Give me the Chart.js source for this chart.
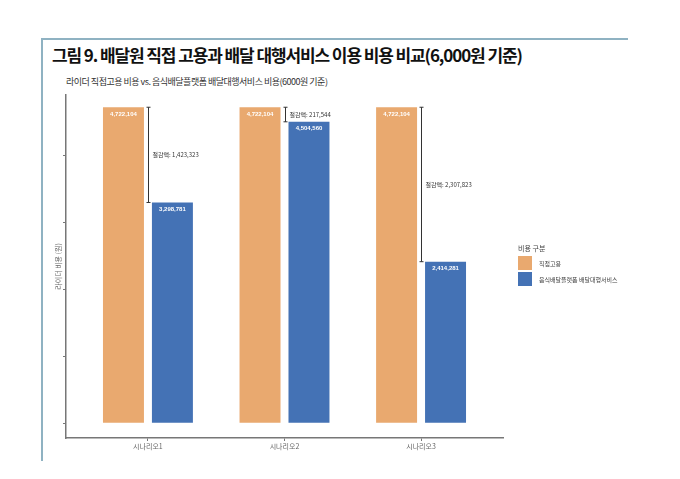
<!DOCTYPE html>
<html>
<head>
<meta charset="utf-8">
<script src="https://cdn.jsdelivr.net/npm/chart.js@4.4.1/dist/chart.umd.min.js"></script>
<style>
  html, body { margin: 0; padding: 0; background: #fff; }
  #page { position: relative; width: 680px; height: 479px; overflow: hidden; font-family: "Noto Sans CJK KR", "Noto Sans", sans-serif; }
  #frame-top { position: absolute; left: 42px; top: 38px; width: 586px; height: 2px; background: #8fb2c2; }
  #frame-left { position: absolute; left: 41px; top: 38px; width: 2px; height: 423px; background: #8fb2c2; }
  #title { position: absolute; left: 52px; top: 42px; font-size: 17px; font-weight: bold; color: #111; white-space: nowrap; letter-spacing: -1.1px; }
  #subtitle { position: absolute; left: 66px; top: 75px; font-size: 9px; color: #333; white-space: nowrap; letter-spacing: -0.5px; }
  #chart-wrap { position: absolute; left: 0; top: 0; width: 680px; height: 479px; }
  #legend { position: absolute; left: 518px; top: 243px; font-size: 6px; color: #444; }
  #legend .ltitle { font-size: 7px; margin-bottom: 3px; }
  #legend .item { display: flex; align-items: center; height: 14px; margin-bottom: 2px; }
  #legend .sw { width: 14px; height: 14px; margin-right: 7px; }
</style>
</head>
<body>
<div id="page">
  <div id="frame-top"></div>
  <div id="frame-left"></div>
  <div id="title">그림 9. 배달원 직접 고용과 배달 대행서비스 이용 비용 비교(6,000원 기준)</div>
  <div id="subtitle">라이더 직접고용 비용 vs. 음식배달플랫폼 배달대행서비스 비용(6000원 기준)</div>
  <div id="chart-wrap"><canvas id="chart" width="680" height="479"></canvas></div>
  <div id="legend"></div>
</div>
<script>
// chart data
const scenarios = ['시나리오1', '시나리오2', '시나리오3'];
const directCost = [4722104, 4722104, 4722104];
const platformCost = [3298781, 4504560, 2414281];
const seriesNames = ['직접고용', '음식배달플랫폼 배달대행서비스'];
const yTicks = [0, 1000000, 2000000, 3000000, 4000000];

const ORANGE = '#e9a96f';
const BLUE = '#4472b5';

const fmt = v => v.toLocaleString('en-US');

// bar values inside the bar tops + savings brackets
const labelPlugin = {
  id: 'labels',
  afterDatasetsDraw(chart) {
    const ctx = chart.ctx;
    ctx.save();
    ctx.textAlign = 'center';
    ctx.textBaseline = 'middle';
    ctx.font = 'bold 6px "Liberation Sans", Arial, sans-serif';
    ctx.fillStyle = '#ffffff';
    chart.data.datasets.forEach((ds, di) => {
      chart.getDatasetMeta(di).data.forEach((bar, i) => {
        ctx.fillText(fmt(ds.data[i].y), bar.x, bar.y + 7);
      });
    });

    // savings brackets
    const xs = chart.scales.x, ys = chart.scales.y;
    scenarios.forEach((s, i) => {
      const x = Math.round(xs.getPixelForValue(i)) + 0.5;
      const y1 = ys.getPixelForValue(directCost[i]);
      const y2 = ys.getPixelForValue(platformCost[i]);
      ctx.strokeStyle = '#333';
      ctx.lineWidth = 1;
      ctx.beginPath();
      ctx.moveTo(x, y1); ctx.lineTo(x, y2);
      ctx.moveTo(x - 2, y1); ctx.lineTo(x + 2, y1);
      ctx.moveTo(x - 2, y2); ctx.lineTo(x + 2, y2);
      ctx.stroke();
      ctx.fillStyle = '#333';
      ctx.textAlign = 'left';
      ctx.font = '6px "Noto Sans CJK KR", sans-serif';
      ctx.fillText('절감액: ' + fmt(directCost[i] - platformCost[i]), x + 4, (y1 + y2) / 2);
    });
    ctx.restore();
  }
};

const chart = new Chart(document.getElementById('chart'), {
  type: 'bar',
  data: {
    datasets: [
      {
        label: seriesNames[0],
        data: directCost.map((v, i) => ({ x: i, y: v })),
        backgroundColor: ORANGE
      },
      {
        label: seriesNames[1],
        data: platformCost.map((v, i) => ({ x: i, y: v })),
        backgroundColor: BLUE
      }
    ]
  },
  options: {
    responsive: false,
    animation: false,
    categoryPercentage: 0.717,
    barPercentage: 0.837,
    layout: { padding: { top: 95, right: 177, bottom: 0, left: 0 } },
    plugins: {
      legend: { display: false },
      tooltip: { enabled: false }
    },
    scales: {
      x: {
        type: 'linear',
        min: -0.6,
        max: 2.6,
        offset: false,
        afterBuildTicks: scale => { scale.ticks = scenarios.map((s, i) => ({ value: i })); },
        afterFit: scale => { scale.height = 479 - 438; },
        grid: { display: true, drawOnChartArea: false, offset: false, tickLength: 3, color: '#777' },
        border: { display: true, color: '#777', width: 1.5 },
        ticks: {
          padding: 1,
          color: '#666',
          font: { size: 7, family: '"Noto Sans CJK KR", sans-serif' },
          callback: v => scenarios[v]
        }
      },
      y: {
        min: -220000,
        max: 4905000,
        afterBuildTicks: scale => { scale.ticks = yTicks.map(v => ({ value: v })); },
        afterFit: scale => { scale.width = 66; },
        grid: { display: true, drawOnChartArea: false, tickLength: 3, color: '#777' },
        border: { display: true, color: '#777', width: 1.5 },
        ticks: { display: false },
        title: {
          display: true,
          text: '라이더 비용 (원)',
          color: '#666',
          padding: { top: 54 },
          font: { size: 7, family: '"Noto Sans CJK KR", sans-serif' }
        }
      }
    }
  },
  plugins: [labelPlugin]
});

// legend built from the datasets
const legend = document.getElementById('legend');
legend.innerHTML = '<div class="ltitle">비용 구분</div>' + chart.data.datasets.map(ds =>
  `<div class="item"><div class="sw" style="background:${ds.backgroundColor}"></div><span>${ds.label}</span></div>`
).join('');
</script>
</body>
</html>
